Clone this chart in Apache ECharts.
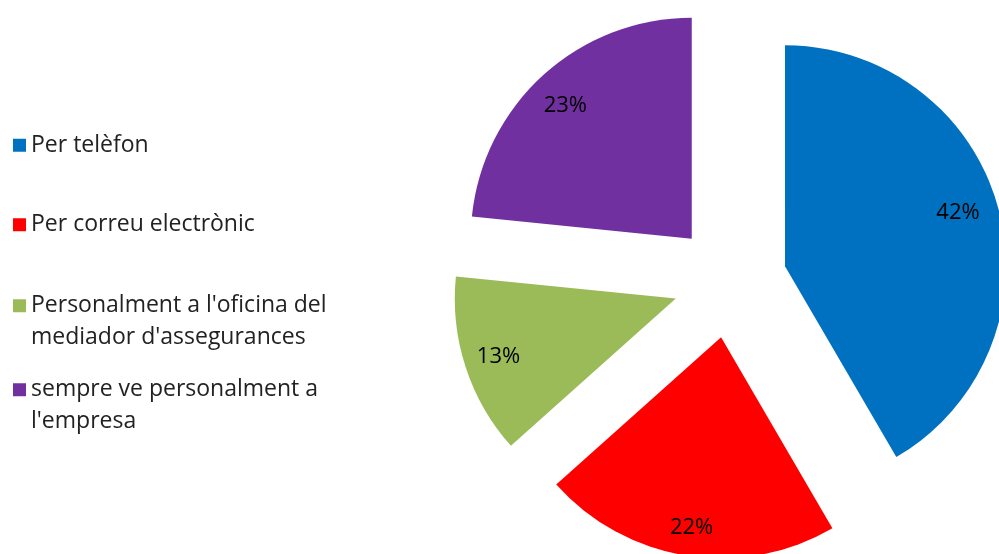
<!DOCTYPE html>
<html>
<head>
<meta charset="utf-8">
<script src="https://cdn.jsdelivr.net/npm/echarts@6/dist/echarts.min.js"></script>
<style>html,body{margin:0;padding:0;background:#fff}#c{width:999px;height:554px}</style>
</head>
<body>
<div id="c"></div>
<script>
const categories = ["Per telèfon", "Per correu electrònic", "Personalment a l'oficina del mediador d'assegurances", "sempre ve personalment a l'empresa"];
const legendLabels = ["Per telèfon", "Per correu electrònic", "Personalment a l'oficina del\nmediador d'assegurances", "sempre ve personalment a\nl'empresa"];
// shares (%); labels show them rounded
const values = [41.6, 21.8, 13.2, 23.4];
const colors = ['#0070C0', '#FF0000', '#9BBB59', '#7030A0'];

const chart = echarts.init(document.getElementById('c'));
const center = [730, 281];
const LEGEND_FONT = 'Open Sans';
const LABEL_FONT = 'Open Sans';
// small nudges of the value labels (layout only):
// horizontal via box padding [top, right, bottom, left], vertical via an empty line above/below
const labelPad = [[0, 18, 0, 0], [0, 0, 0, 0], [0, 0, 0, 4], [0, 0, 0, 0]];
const labelShiftY = [-4, 4, 0, 7];

const mainData = categories.map((n, i) => ({ name: n, value: values[i], selected: true, itemStyle: { color: colors[i] } }));
const labelData = categories.map((n, i) => {
  const s = labelShiftY[i];
  const txt = Math.round(values[i]) + '%';
  const fmt = s > 0 ? '\n' + txt : (s < 0 ? txt + '\n' : txt);
  return { name: n, value: values[i], selected: true,
    label: { padding: labelPad[i], formatter: fmt, lineHeight: s === 0 ? 26 : 2 * Math.abs(s) } };
});

// two-line entries get an empty leading line so the icon sits beside the first line
const legendTops = [129.5, 209, 258.5, 342.5];
const legends = categories.map((n, i) => {
  const twoLine = legendLabels[i].indexOf('\n') >= 0;
  return {
    orient: 'vertical', left: 13, top: legendTops[i], padding: 0,
    itemWidth: 13, itemHeight: 13, itemGap: 0, icon: 'rect',
    selectedMode: false,
    data: [n],
    formatter: name => {
      const t = legendLabels[categories.indexOf(name)];
      return twoLine ? '\n' + t : t;
    },
    textStyle: { fontFamily: LEGEND_FONT, fontSize: 23, color: '#222', lineHeight: 31.5 }
  };
});

chart.setOption({
  animation: false,
  legend: legends,
  series: [
    {
      type: 'pie', center: center, radius: 221, startAngle: 90, clockwise: true,
      selectedMode: 'multiple', selectedOffset: 57,
      label: { show: false }, labelLine: { show: false },
      emphasis: { disabled: true },
      silent: true,
      data: mainData
    },
    {
      type: 'pie', center: center, radius: [150, 221], startAngle: 90, clockwise: true,
      selectedMode: 'multiple', selectedOffset: 57,
      itemStyle: { color: 'rgba(0,0,0,0)' },
      label: { show: true, position: 'inside', fontFamily: LABEL_FONT, fontSize: 22, color: '#000' },
      labelLine: { show: false },
      emphasis: { disabled: true },
      silent: true,
      legendHoverLink: false,
      data: labelData
    }
  ]
});
</script>
</body>
</html>
